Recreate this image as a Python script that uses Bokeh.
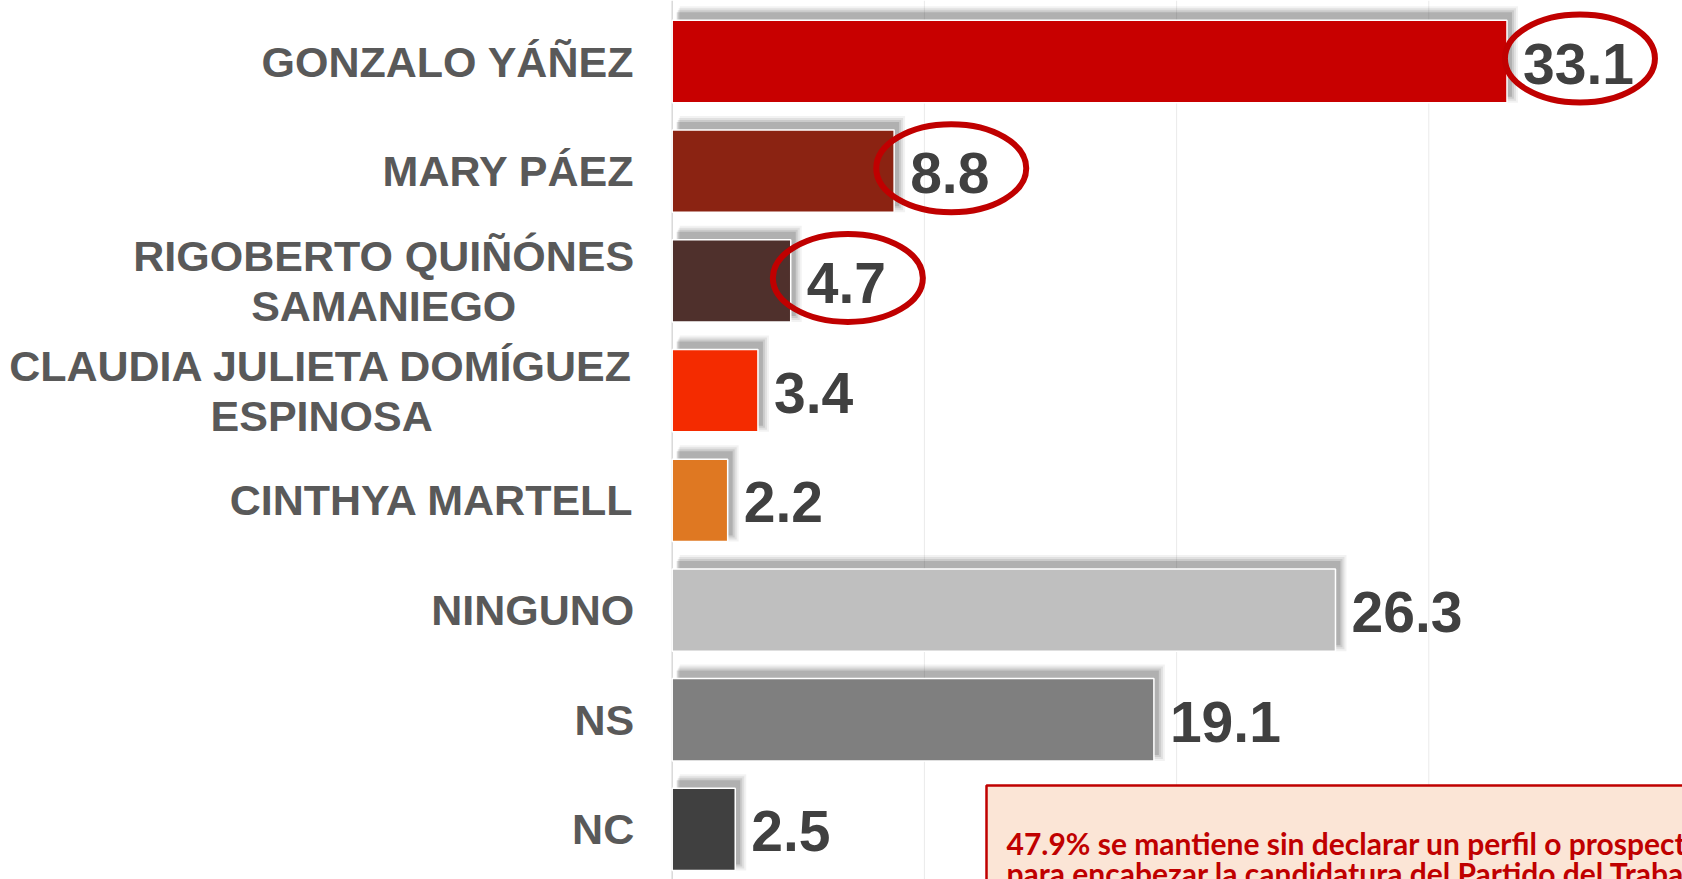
from bokeh.plotting import figure
from bokeh.models import ColumnDataSource, Range1d, Span
from bokeh.core.properties import value
from bokeh.embed import file_html
from bokeh.resources import INLINE

# ---------------- data ----------------
categories = [
    "GONZALO YÁÑEZ",
    "MARY PÁEZ",
    "RIGOBERTO QUIÑÓNES\nSAMANIEGO",
    "CLAUDIA JULIETA DOMÍGUEZ\nESPINOSA",
    "CINTHYA MARTELL",
    "NINGUNO",
    "NS",
    "NC",
]
values = [33.1, 8.8, 4.7, 3.4, 2.2, 26.3, 19.1, 2.5]
bar_colors = ["#C80000", "#8B2312", "#4F302C", "#F42B00", "#DF7822",
              "#BFBFBF", "#7F7F7F", "#404040"]
highlighted = ["GONZALO YÁÑEZ", "MARY PÁEZ", "RIGOBERTO QUIÑÓNES\nSAMANIEGO"]
grid_ticks = [10, 20, 30]
note_lines = [
    "47.9% se mantiene sin declarar un perfil o prospecto",
    "para encabezar la candidatura del Partido del Trabajo",
]

# ---------------- geometry ----------------
W, H = 1682, 879
PX_PER_UNIT = 25.22          # horizontal pixels per percentage point
ZERO_PX = 671.7              # x pixel of value 0
ROW_PX = 109.71              # pixels per category row
FIRST_ROW_PX = 61.0          # y pixel of first row centre

x_start = -ZERO_PX / PX_PER_UNIT
x_end = x_start + W / PX_PER_UNIT
y_top = -FIRST_ROW_PX / ROW_PX
y_bottom = y_top + H / ROW_PX

def xd(px):
    return (px - ZERO_PX) / PX_PER_UNIT

def yd(px):
    return (px - FIRST_ROW_PX) / ROW_PX

p = figure(width=W, height=H, output_backend="svg", toolbar_location=None,
           x_range=Range1d(x_start, x_end),
           y_range=Range1d(start=y_bottom, end=y_top),
           min_border=0, min_border_left=0, min_border_right=0,
           min_border_top=0, min_border_bottom=0)
p.xaxis.visible = False
p.yaxis.visible = False
p.grid.visible = False
p.outline_line_color = None
p.background_fill_color = "white"
p.border_fill_color = "white"

ys = list(range(len(categories)))

# gridlines (under the bars)
for t in grid_ticks:
    p.add_layout(Span(location=t, dimension="height", line_color="#EAEAEA",
                      line_width=1, level="underlay"))
p.add_layout(Span(location=0, dimension="height", line_color="#D9D9D9",
                  line_width=1.5, level="underlay"))

# shadows (layered translucent rects, shifted up/right)
BAR_H = 0.75
dx = 4 / PX_PER_UNIT
dy = -7 / ROW_PX
for e, a in [(7, 0.05), (5, 0.07), (3, 0.09), (1, 0.13)]:
    ex = e / PX_PER_UNIT
    ey = 2 * e / ROW_PX
    p.hbar(y=[y + dy for y in ys], left=[dx + ex * 0.5] * len(ys),
           right=[v + dx + ex for v in values], height=BAR_H + ey,
           fill_color="black", fill_alpha=a, line_color=None)

# bars
src = ColumnDataSource(dict(y=ys, v=values, c=bar_colors,
                            lab=[f"{v:.1f}" for v in values]))
p.hbar(y="y", left=0, right="v", height=BAR_H, fill_color="c",
       line_color="white", line_width=1.5, source=src)

# category labels
p.text(x=[0] * len(ys), y=ys, text=categories, x_offset=-38,
       text_font=value("Liberation Sans"), text_font_style="bold",
       text_font_size="43px", text_color="#595959",
       text_align="center", anchor="center_right", text_baseline="middle",
       text_line_height=1.04)

# value labels
VAL_FS = 57
p.text(x="v", y="y", text="lab", x_offset=16, y_offset=2, source=src,
       text_font=value("Liberation Sans"), text_font_style="bold",
       text_font_size=f"{VAL_FS}px", text_color="#404040",
       text_align="left", text_baseline="middle")

# red ellipses around highlighted values
def txt_w(s):
    return sum(0.278 if ch == "." else 0.556 for ch in s) * VAL_FS

ex_, ey_ = [], []
for cat, v, y in zip(categories, values, ys):
    if cat in highlighted:
        w = txt_w(f"{v:.1f}")
        ex_.append(v + (16 + w / 2 + 1.5) / PX_PER_UNIT)
        ey_.append(y - 3 / ROW_PX)
p.ellipse(x=ex_, y=ey_, width=150, height=88, width_units="screen",
          height_units="screen", fill_color=None, line_color="#C00000",
          line_width=6)

# note box (cut by the chart edge, as in the original)
p.quad(left=[xd(986)], right=[x_end + 2], top=[yd(785)], bottom=[y_bottom + 1],
       fill_color="#FBE5D6", line_color="#C00000", line_width=2.5)
p.text(x=[xd(1006)] * 2, y=[yd(842), yd(872)],
       text=note_lines, text_font=value("Lato"), text_font_style="bold",
       text_font_size="30px", text_color="#C00000", text_align="left",
       text_baseline="alphabetic")

open("out.html", "w").write(file_html(p, INLINE))
